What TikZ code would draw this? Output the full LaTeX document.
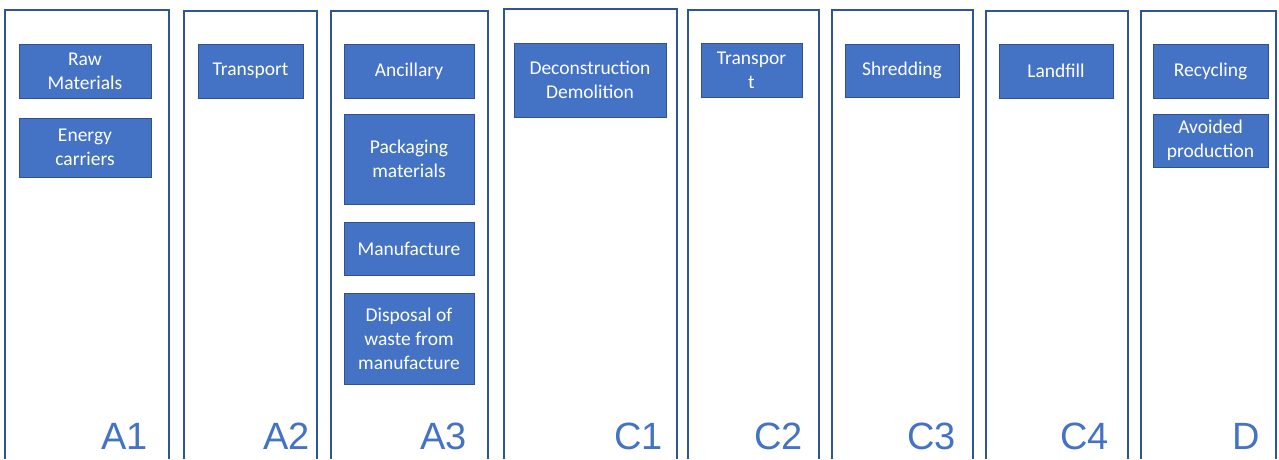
\documentclass[tikz,border=0pt]{standalone}
\usepackage{fontspec}
\usepackage{xcolor}
\usepackage{tikz}
\setmainfont{Carlito}
\newfontfamily\labelfont{Liberation Sans}
\definecolor{frameblue}{RGB}{47, 85, 151}
\definecolor{boxblue}{RGB}{68, 114, 196}
\definecolor{boxedge}{RGB}{47, 82, 143}
\definecolor{labelblue}{RGB}{68, 114, 196}
\tikzset{
  stageframe/.style={draw=frameblue, line width=2.4pt},
  stagebox/.style={fill=boxblue, draw=boxedge, line width=0.8pt, inner sep=0pt,
    align=center, text=white, font=\fontsize{19.5}{24}\selectfont},
  stagelabel/.style={anchor=base east, inner sep=0pt, text=labelblue,
    font=\labelfont\fontsize{38}{40}\selectfont}
}

\begin{document}
\begin{tikzpicture}[x=1pt, y=-1pt]
    % Page size
    \useasboundingbox (0,0) rectangle (1279,459);
    \fill[white] (0,0) rectangle (1279,459);

    % Stage frames (open at the bottom)
    \draw[stageframe] (5,459) |- (169,10) -- (169,459);
    \draw[stageframe] (184,459) |- (317,11) -- (317,459);
    \draw[stageframe] (331,459) |- (488,11) -- (488,459);
    \draw[stageframe] (504,459) |- (677,9) -- (677,459);
    \draw[stageframe] (688,459) |- (819,10) -- (819,459);
    \draw[stageframe] (832,459) |- (973,10) -- (973,459);
    \draw[stageframe] (986,459) |- (1128,11) -- (1128,459);
    \draw[stageframe] (1141,459) |- (1276,11) -- (1276,459);

    % A1
    \node[stagebox, minimum width=132, minimum height=54] (rawmat) at (85,71) {Raw\\Materials};
    \node[stagebox, minimum width=132, minimum height=59] (energy) at (85,147.5) {Energy\\carriers};

    % A2
    \node[stagebox, minimum width=105, minimum height=54] (transpa) at (250.5,71) {Transport};

    % A3
    \node[stagebox, minimum width=130, minimum height=54] (ancillary) at (409,71) {Ancillary};
    \node[stagebox, minimum width=130, minimum height=90] (packaging) at (409,159) {Packaging\\materials};
    \node[stagebox, minimum width=130, minimum height=53] (manufacture) at (409,248.5) {Manufacture};
    \node[stagebox, minimum width=130, minimum height=91] (disposal) at (409,338.5) {Disposal of\\waste from\\manufacture};

    % C1 - C4
    \node[stagebox, minimum width=152, minimum height=74] (decon) at (590,80) {Deconstruction\\Demolition};
    \node[stagebox, minimum width=101, minimum height=54] (transpc) at (751.5,70) {Transpor\\t};
    \node[stagebox, minimum width=114, minimum height=53] (shredding) at (902,70.5) {Shredding};
    \node[stagebox, minimum width=114, minimum height=54] (landfill) at (1056,71) {Landfill};

    % D
    \node[stagebox, minimum width=115, minimum height=54] (recycling) at (1210.5,71) {Recycling};
    \node[stagebox, minimum width=115, minimum height=53] (avoided) at (1210.5,140.5) {Avoided\\production};

    % Stage labels
    \node[stagelabel] (labA1) at (148,449) {A1};
    \node[stagelabel] (labA2) at (310,449) {A2};
    \node[stagelabel] (labA3) at (467,449) {A3};
    \node[stagelabel] (labC1) at (663,449) {C1};
    \node[stagelabel] (labC2) at (803,449) {C2};
    \node[stagelabel] (labC3) at (956,449) {C3};
    \node[stagelabel] (labC4) at (1109,449) {C4};
    \node[stagelabel] (labD) at (1260,449) {D};
\end{tikzpicture}
\end{document}
